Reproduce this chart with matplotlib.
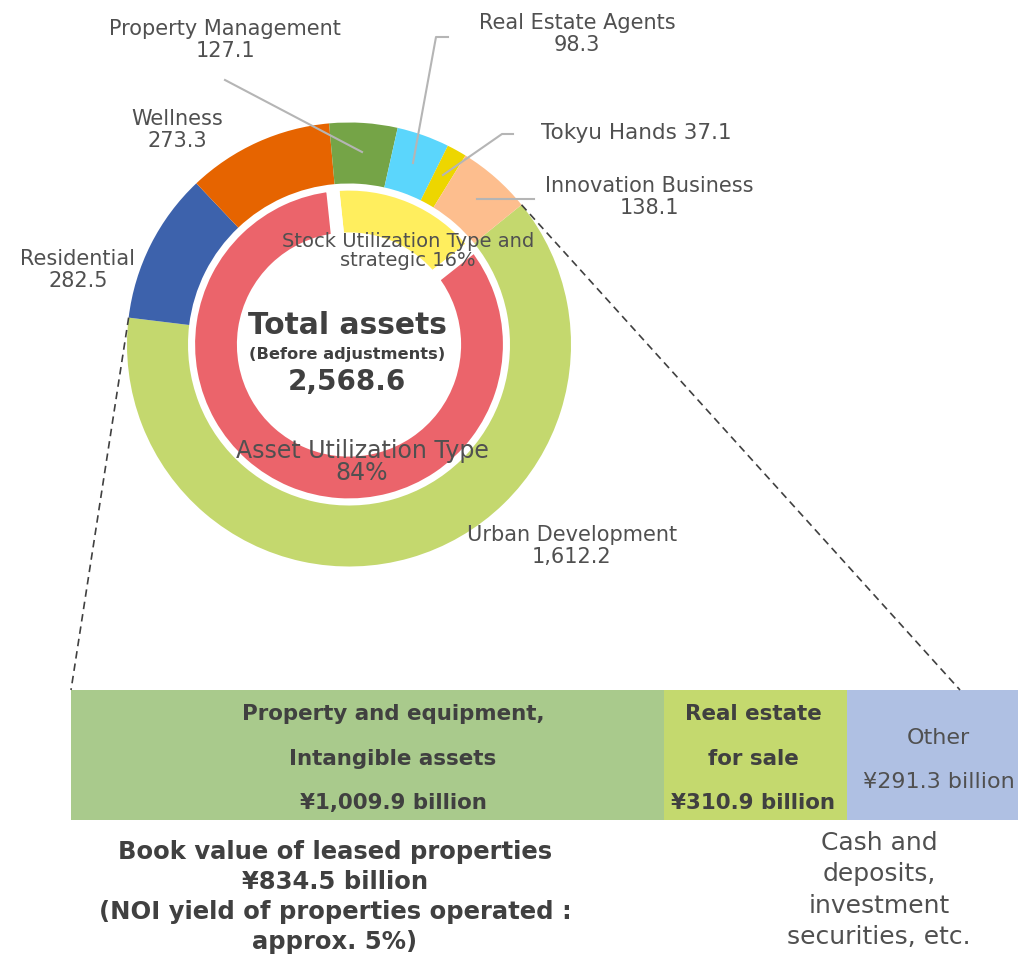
import numpy as np
import matplotlib
matplotlib.use('Agg')
import matplotlib.pyplot as plt

# segment assets (billion yen)
seg_names = ['Urban Development', 'Residential', 'Wellness', 'Property Management',
             'Real Estate Agents', 'Tokyu Hands', 'Innovation Business']
seg_values = [1612.2, 282.5, 273.3, 127.1, 98.3, 37.1, 138.1]
seg_colors = ['#C4D86E', '#3D62AC', '#E66400', '#75A447', '#5BD6FC', '#EDD600', '#FDBE8E']

type_names = ['Stock Utilization Type and\nstrategic', 'Asset Utilization Type']
type_share = [16, 84]
type_colors = ['#FFEE5E', '#EB646B']

# breakdown of Urban Development
brk_names = ['Property and equipment,\nIntangible assets', 'Real estate\nfor sale', 'Other']
brk_values = [1009.9, 310.9, 291.3]
brk_colors = ['#A9CA8C', '#C4D96E', '#AFC0E3']

total = sum(seg_values)

W, H = 1028, 957
TXT = '#505050'
DARK = '#404040'
LEAD = '#B5B5B5'

def Y(y):
    return H - y

fig = plt.figure(figsize=(W / 100, H / 100), dpi=100)

# breakdown bar (added first so the text axes sits above it)
bax = fig.add_axes([71 / W, (H - 820) / H, 947 / W, 130 / H])
lefts = np.concatenate([[0], np.cumsum(brk_values)[:-1]])
bax.barh(0, brk_values, left=lefts, height=1, color=brk_colors, edgecolor='none')
bax.set_xlim(0, sum(brk_values))
bax.set_ylim(-0.5, 0.5)
bax.axis('off')

ax = fig.add_axes([0, 0, 1, 1])

cx, cy = 349, Y(344.5)

# inner ring (drawn first, white stroke gives the gaps)
ax.pie(type_share, radius=160.5, center=(cx, cy), startangle=96, counterclock=False,
       colors=type_colors, wedgeprops=dict(width=55, edgecolor='white', linewidth=9.5))

# outer ring
wedges, _ = ax.pie(seg_values, radius=222, center=(cx, cy), startangle=39, counterclock=False,
                   colors=seg_colors, wedgeprops=dict(width=61, edgecolor='none'))

ax.set_xlim(0, W)
ax.set_ylim(0, H)
ax.set_aspect('equal')
ax.axis('off')

# dashed connectors from Urban Development edges to the breakdown bar
uw = wedges[0]
for ang, end in [(uw.theta2, (960, Y(690))), (uw.theta1, (71, Y(690)))]:
    a = np.radians(ang)
    p = (cx + 222 * np.cos(a), cy + 222 * np.sin(a))
    ax.plot([p[0], end[0]], [p[1], end[1]], ls=(0, (4.5, 3)), color='#404040', lw=1.2)

# leader lines
ax.plot([362, 225], [Y(152), Y(80)], color=LEAD, lw=1.5)
ax.plot([413, 436, 448], [Y(163), Y(37), Y(37)], color=LEAD, lw=1.5)
ax.plot([443, 502, 513], [Y(175), Y(134), Y(134)], color=LEAD, lw=1.5)
ax.plot([477, 534], [Y(199), Y(199)], color=LEAD, lw=1.5)

fs = 15
ls = 1.12
ax.text(225, Y(40), f'{seg_names[3]}\n{seg_values[3]:,.1f}', ha='center', va='center',
        fontsize=fs, color=TXT, linespacing=ls)
ax.text(177, Y(130), f'{seg_names[2]}\n{seg_values[2]:,.1f}', ha='center', va='center',
        fontsize=fs, color=TXT, linespacing=ls)
ax.text(78, Y(270), f'{seg_names[1]}\n{seg_values[1]:,.1f}', ha='center', va='center',
        fontsize=fs, color=TXT, linespacing=ls)
ax.text(577, Y(34), f'{seg_names[4]}\n{seg_values[4]:,.1f}', ha='center', va='center',
        fontsize=fs, color=TXT, linespacing=ls)
ax.text(541, Y(133), f'{seg_names[5]} {seg_values[5]:,.1f}', ha='left', va='center',
        fontsize=15.5, color=TXT)
ax.text(649, Y(197), f'{seg_names[6]}\n{seg_values[6]:,.1f}', ha='center', va='center',
        fontsize=fs, color=TXT, linespacing=ls)
ax.text(572, Y(546), f'{seg_names[0]}\n{seg_values[0]:,.1f}', ha='center', va='center',
        fontsize=fs, color=TXT, linespacing=ls)

ax.text(408, Y(251), f'{type_names[0]} {type_share[0]}%', ha='center', va='center',
        fontsize=14, color=TXT, linespacing=0.95)
ax.text(362, Y(462), f'{type_names[1]}\n{type_share[1]}%', ha='center', va='center',
        fontsize=17, color=TXT, linespacing=0.9)

# centre
ax.text(347, Y(325), 'Total assets', ha='center', va='center', fontsize=21.4,
        fontweight='bold', color=DARK)
ax.text(347, Y(355), '(Before adjustments)', ha='center', va='center', fontsize=11.7,
        fontweight='bold', color=DARK)
ax.text(347, Y(382), f'{total:,.1f}', ha='center', va='center', fontsize=20,
        fontweight='bold', color=DARK)

bfs = 15.4
l1 = brk_names[0].split('\n')
for txt, yy in zip(l1 + [f'¥{brk_values[0]:,.1f} billion'], [714, 759, 803]):
    ax.text(393, Y(yy), txt, ha='center', va='center', fontsize=bfs,
            fontweight='bold', color=DARK)
l2 = brk_names[1].split('\n')
for txt, yy in zip(l2 + [f'¥{brk_values[1]:,.1f} billion'], [714, 759, 803]):
    ax.text(753, Y(yy), txt, ha='center', va='center', fontsize=bfs,
            fontweight='bold', color=DARK)
ax.text(938, Y(738), brk_names[2], ha='center', va='center', fontsize=16, color=TXT)
ax.text(939, Y(782), f'¥{brk_values[2]:,.1f} billion', ha='center', va='center',
        fontsize=16, color=TXT)

ax.text(335, Y(897), 'Book value of leased properties\n¥834.5 billion\n'
        '(NOI yield of properties operated :\napprox. 5%)', ha='center', va='center',
        fontsize=17.5, fontweight='bold', color=DARK, linespacing=1.33)
ax.text(879, Y(890), 'Cash and\ndeposits,\ninvestment\nsecurities, etc.', ha='center',
        va='center', fontsize=18, color=TXT, linespacing=1.4)

fig.savefig('out.png', dpi=100)
